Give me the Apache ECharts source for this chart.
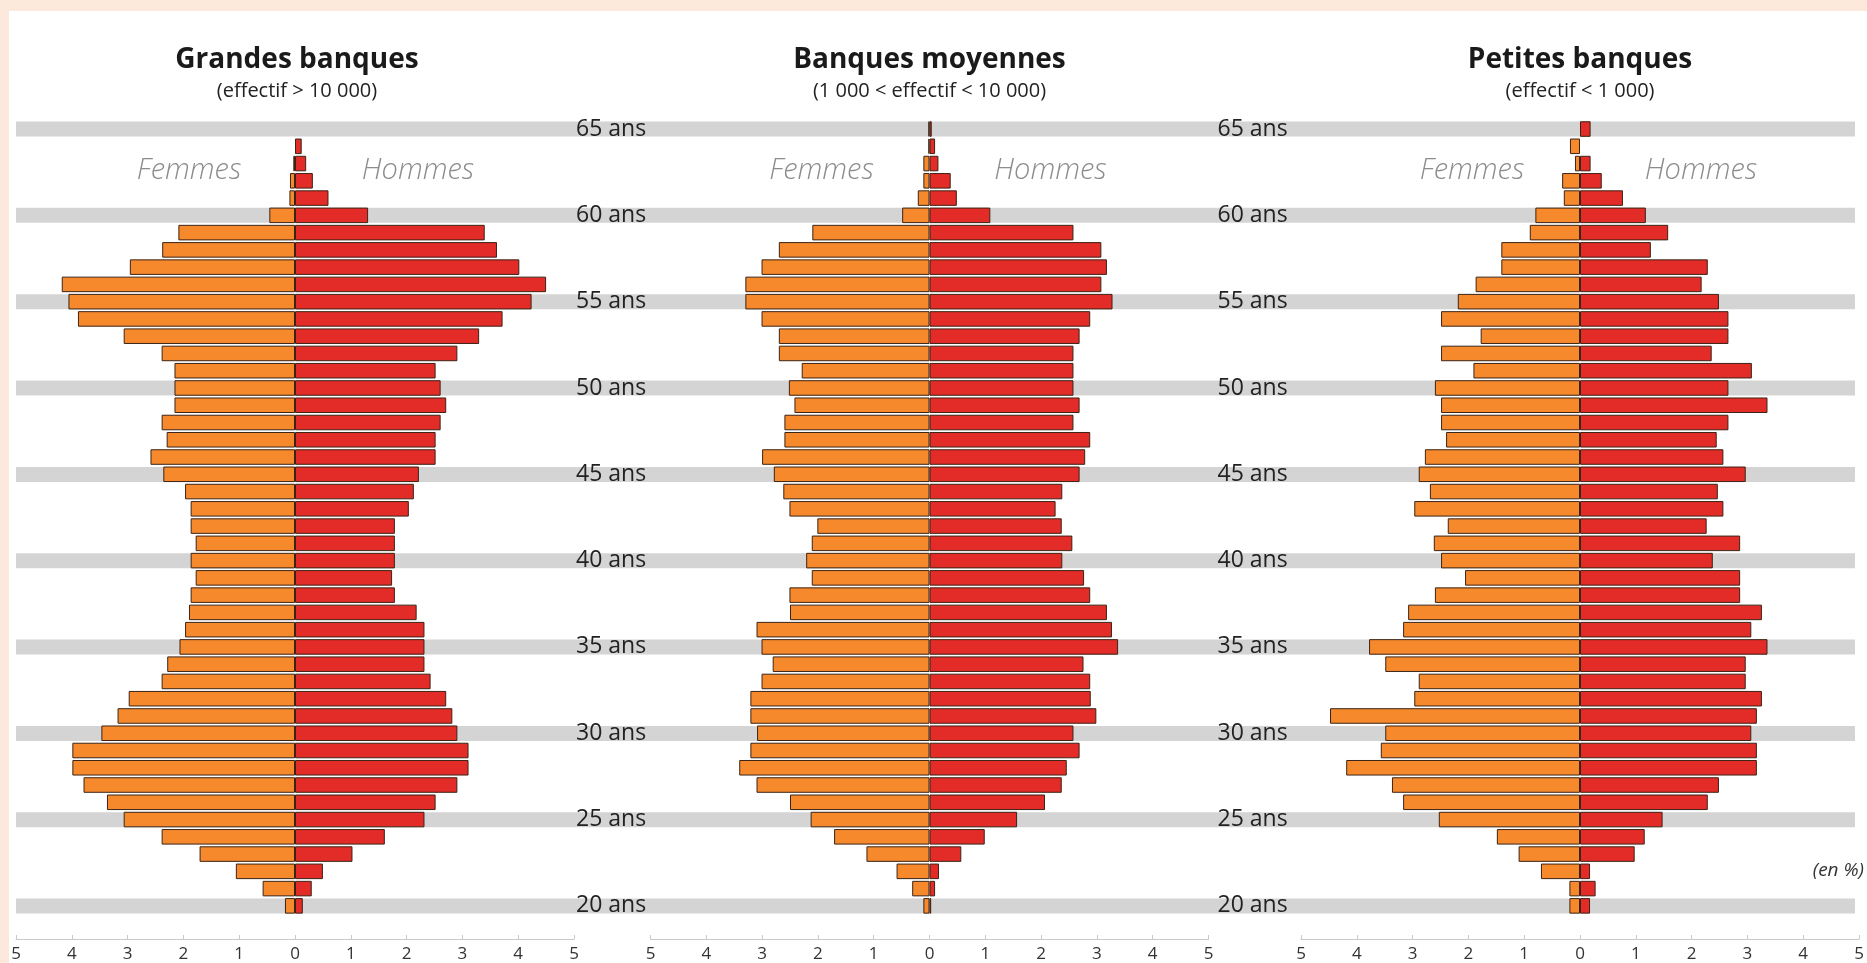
<!DOCTYPE html>
<html>
<head>
<meta charset="utf-8">
<script src="https://cdn.jsdelivr.net/npm/echarts@6/dist/echarts.min.js"></script>
<style>
  html, body { margin: 0; padding: 0; background: #fde9dc; }
  #sheet { position: absolute; left: 9px; top: 11px; right: 0; bottom: 0; background: #ffffff; }
  #chart { position: absolute; left: 0; top: 0; width: 1867px; height: 963px; }
</style>
</head>
<body>
<div id="sheet"></div>
<div id="chart"></div>
<script>
// ---------- DATA (ages from 20 to 65, bottom to top) ----------
const ages = [20,21,22,23,24,25,26,27,28,29,30,31,32,33,34,35,36,37,38,39,40,41,42,43,44,45,46,47,48,49,50,51,52,53,54,55,56,57,58,59,60,61,62,63,64,65];
const bandAges = [20,25,30,35,40,45,50,55,60,65];
const tickLabels = ['5','4','3','2','1','0','1','2','3','4','5'];

const panelTitles = ['Grandes banques', 'Banques moyennes', 'Petites banques'];
const panelSubtitles = ['(effectif > 10 000)', '(1 000 < effectif < 10 000)', '(effectif < 1 000)'];

// Grandes banques (en %)
const grandesFemmes = [0.18,0.58,1.06,1.71,2.39,3.07,3.37,3.79,3.99,3.99,3.47,3.18,2.98,2.39,2.29,2.07,1.97,1.90,1.87,1.78,1.87,1.78,1.87,1.87,1.97,2.36,2.59,2.30,2.39,2.16,2.16,2.16,2.39,3.07,3.89,4.06,4.18,2.96,2.38,2.09,0.46,0.10,0.09,0.03,0,0];
const grandesHommes = [0.14,0.30,0.50,1.03,1.61,2.32,2.52,2.91,3.11,3.11,2.91,2.82,2.71,2.43,2.32,2.32,2.32,2.18,1.79,1.74,1.79,1.79,1.79,2.04,2.13,2.22,2.52,2.52,2.61,2.71,2.61,2.52,2.91,3.30,3.72,4.24,4.50,4.02,3.62,3.40,1.31,0.60,0.32,0.20,0.12,0];

// Banques moyennes (en %)
const moyennesFemmes = [0.11,0.31,0.59,1.13,1.71,2.13,2.50,3.10,3.41,3.21,3.09,3.21,3.21,3.01,2.81,3.01,3.10,2.50,2.51,2.11,2.21,2.11,2.01,2.51,2.62,2.79,3.00,2.60,2.60,2.42,2.52,2.29,2.70,2.70,3.01,3.30,3.30,3.01,2.70,2.10,0.49,0.21,0.11,0.11,0.02,0.02];
const moyennesHommes = [0.03,0.10,0.17,0.57,0.99,1.57,2.07,2.37,2.46,2.69,2.58,2.99,2.89,2.88,2.76,3.38,3.27,3.18,2.88,2.77,2.38,2.56,2.37,2.26,2.38,2.69,2.79,2.88,2.58,2.69,2.58,2.58,2.58,2.69,2.88,3.28,3.08,3.18,3.08,2.58,1.09,0.49,0.38,0.16,0.10,0.04];

// Petites banques (en %)
const petitesFemmes = [0.19,0.19,0.70,1.10,1.49,2.53,3.17,3.37,4.19,3.57,3.49,4.48,2.97,2.89,3.49,3.78,3.17,3.08,2.60,2.06,2.49,2.62,2.37,2.97,2.69,2.89,2.78,2.40,2.49,2.49,2.60,1.91,2.49,1.78,2.49,2.19,1.87,1.41,1.41,0.90,0.80,0.29,0.32,0.09,0.18,0];
const petitesHommes = [0.18,0.28,0.18,0.98,1.16,1.48,2.29,2.49,3.17,3.17,3.07,3.17,3.26,2.97,2.97,3.36,3.07,3.26,2.87,2.87,2.38,2.87,2.27,2.57,2.47,2.97,2.57,2.45,2.66,3.36,2.66,3.08,2.36,2.66,2.66,2.49,2.18,2.29,1.27,1.58,1.18,0.77,0.39,0.19,0,0.19];

// ---------- CHART ----------
const FONT = '"Open Sans", Lato, "DejaVu Sans", sans-serif';
const ORANGE = '#f7892d', RED = '#e32b27', OUTLINE = '#3b2416', BAND = '#d4d4d4';

const panels = [
  { f: grandesFemmes, h: grandesHommes, left: 16, labels: true, labelMargin: 2 },
  { f: moyennesFemmes, h: moyennesHommes, left: 650.5, labels: true, labelMargin: 9 },
  { f: petitesFemmes, h: petitesHommes, left: 1301, labels: false, labelMargin: 0 }
];
const PW = 558, TOP = 120.4, H = 794.3;

const grid = [], xAxis = [], yAxis = [], series = [], graphic = [];

// full-width grid for the grey 5-year bands (drawn first, underneath)
grid.push({ left: 16, top: TOP, width: 1839, height: H });
xAxis.push({ gridIndex: 0, type: 'value', min: 0, max: 1, show: false });
yAxis.push({ gridIndex: 0, type: 'category', data: ages, show: false });
series.push({
  type: 'bar', xAxisIndex: 0, yAxisIndex: 0, z: 0, barWidth: 15, silent: true,
  itemStyle: { color: BAND },
  data: ages.map(a => (bandAges.indexOf(a) >= 0 ? 1 : '-'))
});

panels.forEach((p, k) => {
  const i = k + 1;
  grid.push({ left: p.left, top: TOP, width: PW, height: H, containLabel: false });
  xAxis.push({
    gridIndex: i, type: 'value', min: -5, max: 5, interval: 1, offset: 24.5,
    axisLine: { show: true, lineStyle: { color: '#c9c9c9', width: 1 } },
    axisTick: { show: true, inside: true, length: 4, lineStyle: { color: '#c9c9c9' } },
    splitLine: { show: false },
    axisLabel: { color: '#333', fontFamily: FONT, fontSize: 17, margin: 7,
      formatter: v => tickLabels[Math.round(v) + 5] }
  });
  yAxis.push({
    gridIndex: i, type: 'category', data: ages, position: 'right', z: 10,
    axisLine: { show: false }, axisTick: { show: false }, splitLine: { show: false },
    axisLabel: { show: p.labels, color: '#222', fontFamily: FONT, fontSize: 23, margin: p.labelMargin,
      interval: (idx, val) => bandAges.indexOf(Number(val)) >= 0,
      formatter: v => v + ' ans' }
  });
  const clean = v => (v === 0 ? '-' : v);
  series.push({
    type: 'bar', name: 'Femmes', xAxisIndex: i, yAxisIndex: i, stack: 'pyr' + i, z: 3,
    barCategoryGap: '10%',
    itemStyle: { color: ORANGE, borderColor: OUTLINE, borderWidth: 1 },
    data: p.f.map(v => clean(-v))
  });
  series.push({
    type: 'bar', name: 'Hommes', xAxisIndex: i, yAxisIndex: i, stack: 'pyr' + i, z: 3,
    barCategoryGap: '10%',
    itemStyle: { color: RED, borderColor: OUTLINE, borderWidth: 1 },
    data: p.h.map(v => clean(v))
  });
});

// titles and annotations
const centers = [297, 929.5, 1580];
centers.forEach((cx, i) => {
  graphic.push({ type: 'text', x: cx, y: 60, z: 20, style: { text: panelTitles[i], fill: '#1a1a1a',
    font: 'bold 28px ' + FONT, textAlign: 'center', textVerticalAlign: 'middle' } });
  graphic.push({ type: 'text', x: cx, y: 91, z: 20, style: { text: panelSubtitles[i], fill: '#222',
    font: '20px ' + FONT, textAlign: 'center', textVerticalAlign: 'middle' } });
  graphic.push({ type: 'text', x: cx - 108, y: 171, z: 20, style: { text: 'Femmes', fill: '#8c8c8c',
    font: 'italic 300 29px ' + FONT, textAlign: 'center', textVerticalAlign: 'middle' } });
  graphic.push({ type: 'text', x: cx + 121, y: 171, z: 20, style: { text: 'Hommes', fill: '#8c8c8c',
    font: 'italic 300 29px ' + FONT, textAlign: 'center', textVerticalAlign: 'middle' } });
});
graphic.push({ type: 'text', x: 1864, y: 871, z: 20, style: { text: '(en %)', fill: '#333',
  font: 'italic 19px ' + FONT, textAlign: 'right', textVerticalAlign: 'middle' } });

const chart = echarts.init(document.getElementById('chart'), null, { renderer: 'canvas' });
chart.setOption({
  backgroundColor: 'transparent',
  animation: false,
  grid, xAxis, yAxis, series, graphic
});
</script>
</body>
</html>
